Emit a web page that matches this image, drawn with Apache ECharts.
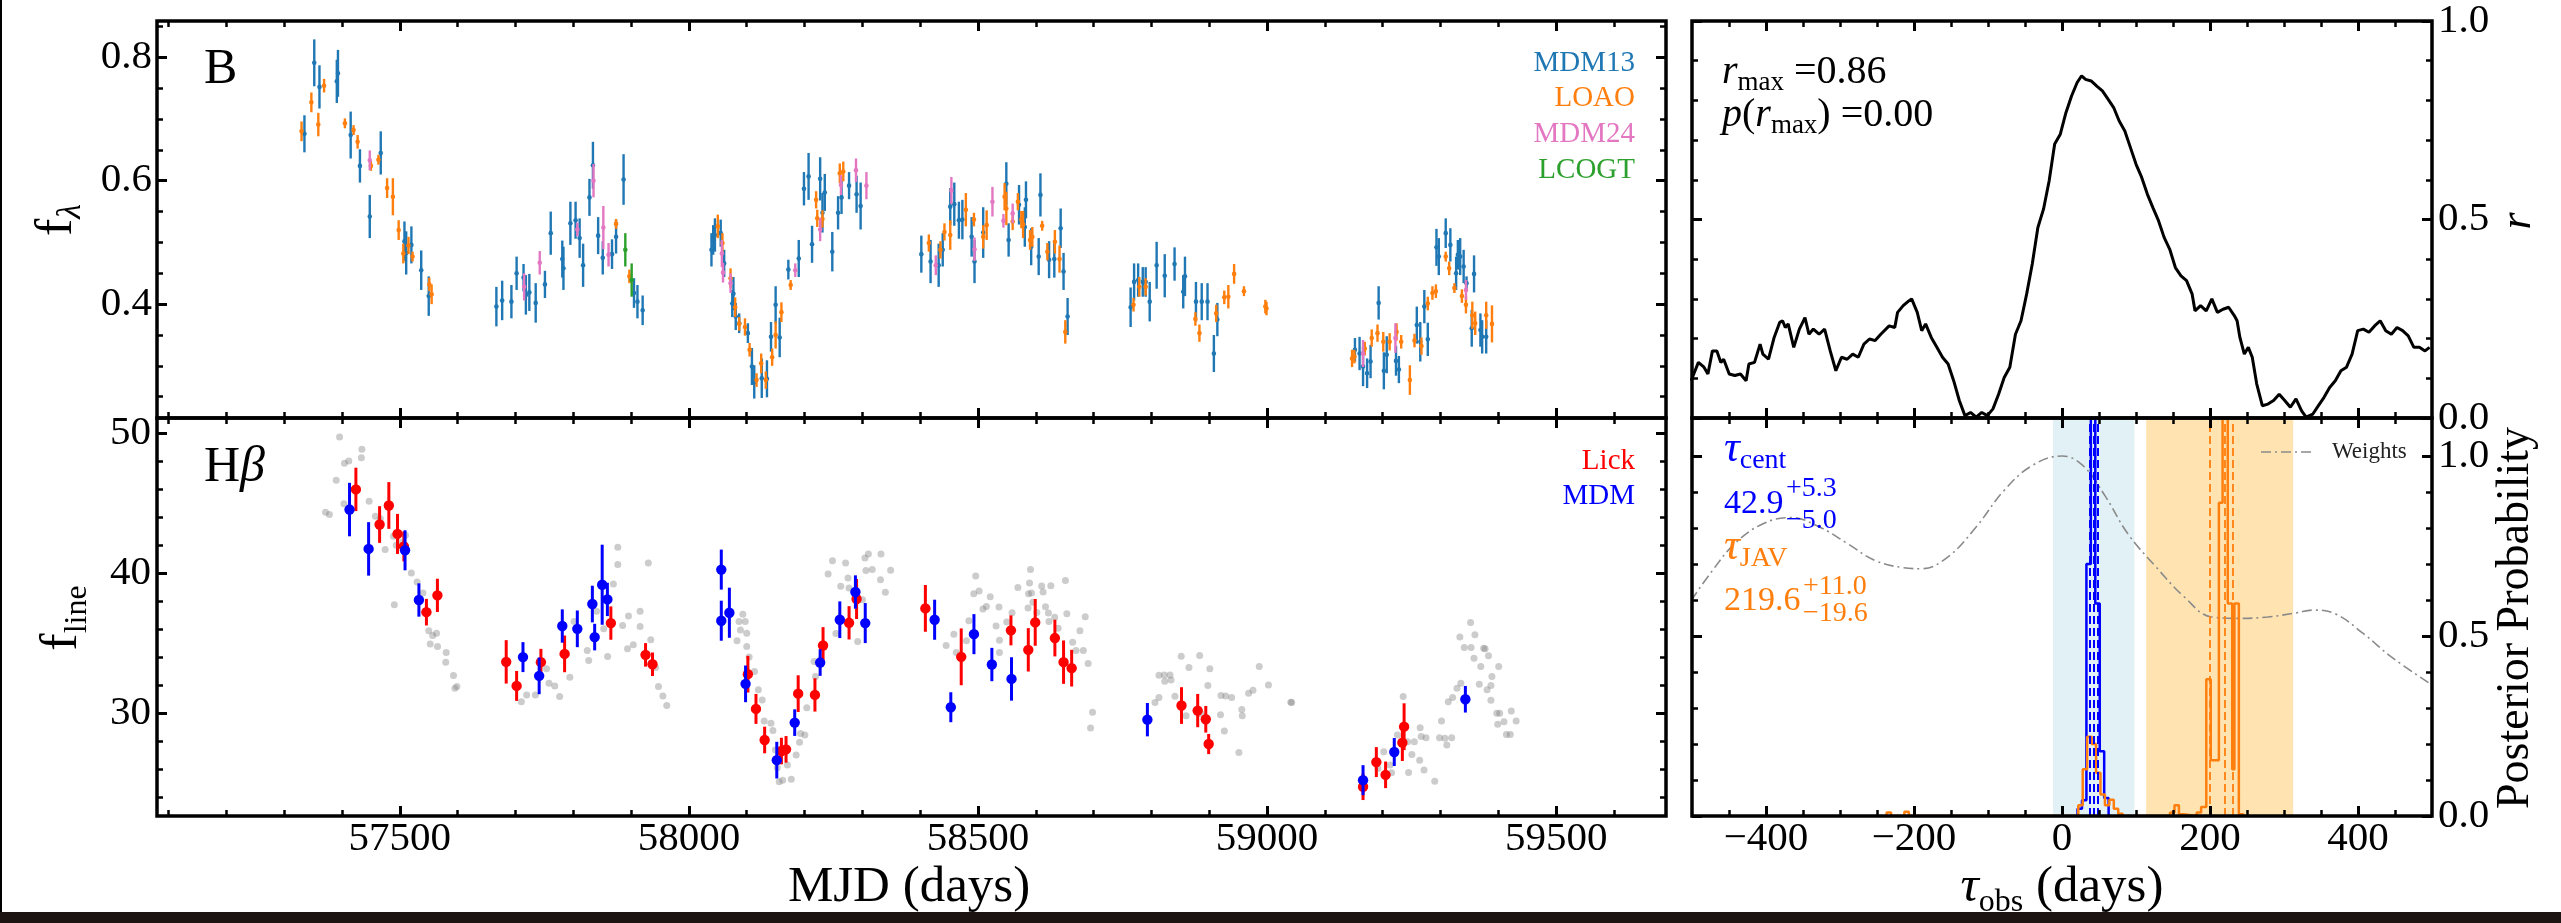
<!DOCTYPE html>
<html><head><meta charset="utf-8">
<script src="https://cdn.jsdelivr.net/npm/echarts@6/dist/echarts.min.js"></script>
<style>html,body{margin:0;padding:0;background:#fff}#c{width:2561px;height:923px}</style>
</head><body><div id="c"></div>
<script>
// ---------------- DATA ----------------
// B-band continuum: [MJD, flux, error]
const mdm13 = [[57335,0.676,0.030],[57352,0.791,0.038],[57361,0.752,0.035],[57391,0.761,0.035],[57393,0.774,0.038],[57415,0.674,0.038],[57431,0.624,0.027],[57448,0.542,0.035],[57467,0.645,0.035],[57508,0.502,0.032],[57511,0.483,0.035],[57520,0.496,0.030],[57537,0.455,0.032],[57550,0.413,0.032],
[57667,0.396,0.032],[57677,0.406,0.032],[57693,0.404,0.027],[57702,0.450,0.027],[57714,0.443,0.022],[57718,0.415,0.032],[57724,0.419,0.030],[57735,0.402,0.032],[57751,0.432,0.022],[57761,0.515,0.035],[57781,0.473,0.030],[57783,0.458,0.035],[57795,0.531,0.035],[57804,0.536,0.030],[57811,0.507,0.032],[57817,0.463,0.035],[57828,0.573,0.030],[57834,0.625,0.038],[57843,0.511,0.030],[57851,0.475,0.027],[57867,0.481,0.024],[57874,0.509,0.027],[57887,0.602,0.041],[57905,0.418,0.024],[57911,0.404,0.027],[57920,0.390,0.024],
[58039,0.488,0.027],[58042,0.504,0.024],[58045,0.512,0.027],[58055,0.515,0.022],[58061,0.466,0.022],[58075,0.401,0.022],[58077,0.417,0.027],[58081,0.380,0.022],[58087,0.369,0.016],[58102,0.353,0.016],[58109,0.299,0.030],[58113,0.274,0.027],[58126,0.280,0.032],[58135,0.279,0.030],[58142,0.347,0.024],[58150,0.399,0.030],[58157,0.346,0.032],[58172,0.456,0.016],[58190,0.474,0.030],[58199,0.587,0.027],[58207,0.607,0.038],[58213,0.497,0.030],[58227,0.603,0.035],[58231,0.548,0.032],[58235,0.581,0.030],[58248,0.485,0.032],[58258,0.548,0.027],[58264,0.573,0.027],[58277,0.592,0.022],[58290,0.578,0.030],[58297,0.559,0.038],
[58402,0.481,0.030],[58418,0.469,0.035],[58432,0.463,0.035],[58439,0.488,0.027],[58452,0.558,0.030],[58459,0.562,0.035],[58467,0.536,0.030],[58473,0.537,0.032],[58489,0.509,0.032],[58494,0.469,0.035],[58509,0.516,0.041],[58549,0.595,0.035],[58553,0.504,0.027],[58571,0.561,0.032],[58581,0.525,0.032],[58583,0.569,0.030],[58592,0.493,0.030],[58605,0.477,0.030],[58608,0.577,0.035],[58623,0.472,0.030],[58632,0.473,0.030],[58643,0.523,0.032],[58648,0.453,0.030],[58655,0.380,0.030],
[58764,0.395,0.032],[58770,0.436,0.030],[58777,0.439,0.027],[58785,0.436,0.024],[58790,0.436,0.024],[58797,0.404,0.032],[58809,0.463,0.038],[58823,0.446,0.035],[58840,0.465,0.027],[58855,0.420,0.027],[58858,0.445,0.032],[58877,0.404,0.032],[58887,0.404,0.030],[58897,0.404,0.030],[58908,0.320,0.030],[58914,0.375,0.027],
[59152,0.326,0.019],[59160,0.320,0.027],[59166,0.299,0.032],[59173,0.288,0.024],[59179,0.307,0.027],[59193,0.402,0.027],[59202,0.292,0.030],[59207,0.318,0.030],[59223,0.308,0.024],[59228,0.294,0.022],[59259,0.366,0.030],[59265,0.339,0.032],[59272,0.396,0.027],[59278,0.343,0.027],[59293,0.492,0.030],[59297,0.477,0.030],[59309,0.515,0.024],[59317,0.496,0.027],[59327,0.450,0.027],[59330,0.480,0.024],[59334,0.477,0.030],[59340,0.461,0.027],[59345,0.434,0.011],[59354,0.361,0.030],[59358,0.449,0.030],[59369,0.358,0.027],[59372,0.347,0.027],[59379,0.347,0.027]];
const loao = [[57330,0.680,0.016],[57347,0.727,0.016],[57359,0.691,0.019],[57369,0.754,0.011],[57405,0.693,0.008],[57420,0.682,0.008],[57427,0.663,0.011],[57450,0.624,0.008],[57463,0.634,0.008],[57478,0.588,0.016],[57488,0.574,0.030],[57498,0.520,0.016],[57506,0.482,0.016],[57515,0.495,0.014],[57522,0.477,0.008],[57551,0.432,0.011],[57555,0.416,0.016],
[57874,0.530,0.008],[57897,0.445,0.011],
[58050,0.526,0.019],[58058,0.499,0.016],[58072,0.442,0.016],[58080,0.395,0.016],[58087,0.368,0.011],[58097,0.363,0.014],[58105,0.326,0.011],[58117,0.277,0.011],[58125,0.304,0.016],[58133,0.277,0.014],[58144,0.314,0.014],[58150,0.350,0.022],[58160,0.387,0.016],[58176,0.431,0.008],[58220,0.569,0.014],[58222,0.539,0.014],[58231,0.538,0.014],[58261,0.612,0.016],[58267,0.615,0.016],
[58415,0.499,0.014],[58435,0.488,0.014],[58442,0.517,0.014],[58452,0.512,0.024],[58479,0.553,0.027],[58493,0.537,0.011],[58509,0.509,0.019],[58515,0.528,0.024],[58546,0.574,0.022],[58549,0.555,0.027],[58560,0.534,0.014],[58569,0.566,0.014],[58575,0.537,0.014],[58578,0.529,0.022],[58590,0.504,0.016],[58594,0.509,0.016],[58611,0.527,0.008],[58620,0.485,0.014],[58633,0.501,0.019],[58641,0.473,0.022],[58651,0.355,0.019],
[58769,0.399,0.011],[58779,0.428,0.016],[58790,0.428,0.014],[58876,0.376,0.011],[58883,0.353,0.014],[58912,0.385,0.014],[58926,0.411,0.011],[58933,0.412,0.019],[58943,0.449,0.016],[58960,0.421,0.008],[58997,0.396,0.011],[58999,0.393,0.011],
[59147,0.312,0.014],[59151,0.315,0.011],[59169,0.328,0.011],[59181,0.345,0.014],[59191,0.353,0.014],[59201,0.339,0.016],[59212,0.339,0.014],[59224,0.355,0.014],[59232,0.339,0.011],[59247,0.277,0.024],[59255,0.341,0.011],[59267,0.332,0.014],[59278,0.401,0.011],[59286,0.418,0.011],[59292,0.421,0.011],[59309,0.477,0.008],[59315,0.458,0.011],[59324,0.426,0.008],[59337,0.413,0.011],[59344,0.399,0.014],[59355,0.382,0.022],[59360,0.369,0.019],[59379,0.382,0.022],[59389,0.368,0.030]];
const mdm24 = [[57448,0.633,0.016],[57715,0.428,0.022],[57742,0.467,0.019],[57807,0.521,0.011],[57835,0.600,0.027],[57852,0.524,0.035],[57861,0.480,0.019],
[58057,0.482,0.022],[58059,0.451,0.016],[58072,0.434,0.016],[58184,0.455,0.011],[58227,0.521,0.019],[58263,0.593,0.016],[58289,0.617,0.019],[58307,0.592,0.022],
[58427,0.463,0.016],[58454,0.584,0.022],[58494,0.489,0.019],[58525,0.566,0.024],[58544,0.535,0.011],[58560,0.547,0.016],
[59166,0.320,0.022],[59222,0.345,0.024],[59344,0.423,0.016]];
const lcogt = [[57890,0.488,0.027],[57901,0.439,0.027]];

// H-beta line: [MJD, flux, error]
const lick = [[57424,45.97,1.55],[57465,43.46,1.31],[57481,44.82,1.67],[57496,42.79,1.43],[57507,41.9,1.07],[57546,37.2,0.95],[57565,38.4,1.19],[57684,33.65,1.55],[57702,31.93,1.07],[57744,33.63,0.95],[57785,34.22,1.31],[57865,36.42,1.19],[57925,34.15,0.84],[57937,33.48,0.84],[58102,32.77,1.31],[58116,30.29,1.07],[58131,28.07,0.95],[58160,27.28,0.95],[58168,27.40,0.95],[58189,31.38,1.31],[58218,31.29,1.19],[58232,34.82,1.31],[58277,36.44,1.19],[58290,38.14,1.43],
[58409,37.47,1.67],[58471,34.01,2.03],[58557,35.9,1.07],[58587,34.51,1.55],[58599,36.47,1.67],[58633,35.35,1.31],[58648,33.63,1.55],[58662,33.2,1.31],[58852,30.53,1.31],[58880,30.17,1.19],[58894,29.55,0.95],[58899,27.78,0.72],[59166,24.73,0.95],[59189,26.49,1.07],[59205,25.58,0.95],[59234,27.88,1.31],[59237,29.02,1.67]];
const mdmLine = [[57413,44.53,1.91],[57446,41.72,1.91],[57509,41.62,1.43],[57533,38.07,1.19],[57713,33.99,1.07],[57741,32.65,1.31],[57781,36.21,1.19],[57807,36.01,1.31],[57833,37.78,1.31],[57837,35.42,0.95],[57850,39.16,2.86],[57859,38.11,1.19],[58056,40.24,1.43],[58056,36.59,1.43],[58070,37.16,1.79],[58098,32.08,1.31],[58152,26.63,1.31],[58183,29.31,0.95],[58227,33.6,0.95],[58261,36.66,1.31],[58288,38.64,1.19],[58305,36.42,1.43],
[58425,36.66,1.43],[58453,30.41,1.07],[58493,35.63,1.43],[58524,33.46,1.19],[58558,32.43,1.55],[58793,29.52,1.19],[59166,25.2,1.07],[59220,27.21,1.0],[59343,30.98,0.95]];
// grey points (shifted / scaled continuum): [MJD, flux]
const hbGray = [[57371.5,44.34],[57378.2,44.18],[57395.8,49.71],[57390,46.63],[57403.3,44.94],[57404.2,47.83],[57411.7,48.0],[57434.4,48.83],[57433.5,48.23],[57446.9,45.13],[57457.8,44.06],[57466.2,43.87],[57474.6,41.67],[57488.9,42.63],[57493.9,41.98],[57502.3,42.2],[57509.8,42.7],[57519.9,40.0],[57529.9,39.36],[57540,38.57],[57490.5,37.73],[57544.2,37.26],[57550.1,35.87],[57556.8,35.54],[57563.5,35.7],[57552.6,34.92],[57565.2,34.75],[57580.2,34.32],[57579.4,33.63],[57592.8,32.67],[57595.3,31.77],[57598.7,31.89],
[57710.2,30.81],[57719.4,31.29],[57734.5,31.29],[57753.8,33.15],[57758,32.12],[57768,31.93],[57776.4,31.17],[57794,32.55],[57801.5,36.54],[57824.2,34.46],[57826.7,33.75],[57840.1,37.26],[57852.7,36.01],[57859.4,34.03],[57869.4,39.21],[57877,40.6],[57877,41.84],[57885.4,36.25],[57895.5,36.92],[57893.8,34.58],[57903.8,34.87],[57915.6,37.26],[57915.6,36.18],[57929.8,40.72],[57934,35.23],[57942.4,33.25],[57947.4,31.89],[57955,31.22],[57961.7,30.53],
[58083.2,35.16],[58086.6,36.54],[58089.1,35.92],[58093.3,37.06],[58097.5,36.54],[58100,35.7],[58100,34.75],[58104.2,33.99],[58113.4,32.96],[58120.1,31.65],[58126.8,30.93],[58130.2,29.43],[58141.9,29.26],[58145.3,28.74],[58149.5,27.35],[58152.8,26.09],[58156.2,25.08],[58162.1,25.2],[58170.4,26.28],[58177.1,25.27],[58185.5,26.99],[58191.4,27.9],[58193.1,28.54],[58200.6,28.42],[58203.9,30.38],[58216.5,33.68],[58219,32.6],[58240.8,39.93],[58248.3,40.88],[58254.2,35.68],[58262.6,39.05],[58271,40.72],[58275.2,39.64],[58276.9,38.93],[58291.9,35.11],[58300.3,38.09],[58304.5,41.07],[58306.2,40.17],[58310.4,41.36],[58317.1,40.24],[58332.2,41.36],[58331.4,39.52],[58339.8,38.62],[58348.9,40.19],
[58444.9,34.82],[58458.3,35.63],[58462.5,34.32],[58480.1,35.16],[58484.3,36.59],[58492.7,38.52],[58496.1,39.79],[58501.9,38.71],[58508.6,37.42],[58514.5,37.61],[58521.2,38.31],[58531.3,36.21],[58536.3,37.57],[58537.1,35.2],[58537.1,34.32],[58549.7,36.49],[58558.9,37.16],[58569,38.97],[58586.6,37.49],[58587.4,38.52],[58589.1,39.28],[58590.8,40.24],[58592.5,38.57],[58595,37.9],[58601.7,37.18],[58610.1,39.07],[58612.6,38.64],[58616.8,37.59],[58621.8,37.14],[58626,39.09],[58622.7,36.54],[58632.7,36.83],[58638.6,36.06],[58651.2,39.47],[58653.7,37.09],[58663.7,35.06],[58669.6,34.46],[58676.3,35.87],[58682.2,34.46],[58685.5,36.87],[58690.6,33.53],[58698.1,30.05],[58694.7,28.93],
[58806.2,30.74],[58813,31.1],[58813,32.7],[58823,32.27],[58822.2,32.72],[58832.2,32.72],[58833.9,32.36],[58840.6,31.19],[58851.5,34.06],[58859.9,29.81],[58864.9,33.25],[58883.4,34.11],[58885.9,29.95],[58897.6,31.96],[58901,33.15],[58920.3,31.24],[58919.4,29.88],[58926.1,28.71],[58928.6,31.22],[58938.7,31.1],[58951.3,27.18],[58956.3,30.24],[58957.1,29.81],[58968,31.41],[58975.6,31.62],[58986.5,33.32],[59002.4,32.0],[59041,30.76],[59042.6,30.74],
[59191.8,26.04],[59201.9,27.23],[59212.8,26.28],[59215.3,25.73],[59225.4,28.42],[59235.4,31.17],[59243,27.95],[59244.7,25.75],[59250.5,27.04],[59254.7,27.95],[59263.9,26.63],[59264.8,28.95],[59266.5,28.31],[59271.5,25.92],[59274.9,28.23],[59290,25.13],[59298.3,28.23],[59301.7,29.43],[59307.6,28.19],[59310.9,27.71],[59313.4,30.81],[59319.3,28.23],[59320.9,31.1],[59328.5,31.77],[59335.2,32.12],[59333.5,35.42],[59341.1,34.68],[59352,36.47],[59352.8,34.68],[59357.9,33.91],[59359.5,35.58],[59367.1,32.05],[59369.6,33.32],[59374.6,34.63],[59377.1,34.58],[59380.5,31.65],[59383,34.08],[59387.2,30.91],[59387.2,31.96],[59388.9,32.6],[59400.6,33.32],[59397.3,29.98],[59402.3,29.98],[59398.9,29.19],[59409.8,29.38],[59414,28.47],[59420.7,28.47],[59422.4,30.14],[59430.8,29.43]];

// CCF
const ccfLag = [-501.2,-491.4,-483.8,-478.5,-472.4,-466.4,-461.0,-457.2,-449.7,-442.1,-434.5,-426.9,-423.1,-415.5,-408.0,-404.2,-396.6,-389.0,-381.4,-377.6,-373.9,-370.0,-362.5,-354.9,-347.3,-342.0,-336.0,-328.3,-320.8,-313.2,-305.6,-298.0,-290.4,-282.8,-275.3,-267.7,-260.1,-252.5,-244.9,-233.6,-226.0,-222.2,-214.6,-207.0,-203.2,-195.6,-189.6,-184.3,-176.7,-169.1,-161.5,-153.9,-146.4,-138.8,-131.2,-123.6,-116.0,-108.4,-100.9,-93.3,-85.7,-78.1,-70.5,-62.9,-55.4,-47.8,-40.2,-32.6,-25.0,-17.4,-9.9,-2.3,5.3,12.9,20.5,26.5,31.8,39.4,47.0,54.6,62.2,69.8,77.3,84.9,92.5,100.1,107.7,115.3,122.8,130.4,138.0,145.6,153.2,160.8,168.3,175.9,179.7,187.3,194.9,202.5,210.0,217.6,225.2,232.8,236.6,240.4,246.4,251.8,257.1,263.1,270.7,278.3,285.9,293.5,301.0,308.6,316.2,323.8,329.9,339.0,346.5,354.1,361.7,369.3,376.9,384.5,392.0,399.6,407.2,414.8,422.4,430.0,437.5,445.1,452.7,460.3,467.9,475.5,483.0,490.6,496.7];
const ccfR = [0.094,0.140,0.128,0.111,0.169,0.169,0.140,0.148,0.111,0.107,0.111,0.094,0.136,0.140,0.186,0.161,0.148,0.203,0.241,0.245,0.228,0.237,0.178,0.224,0.253,0.211,0.224,0.211,0.224,0.169,0.119,0.153,0.148,0.161,0.153,0.186,0.199,0.195,0.211,0.232,0.228,0.266,0.283,0.295,0.300,0.266,0.220,0.237,0.203,0.178,0.153,0.136,0.094,0.044,0.006,0.014,0.002,0.014,0.006,0.023,0.060,0.102,0.128,0.211,0.245,0.312,0.388,0.480,0.526,0.597,0.690,0.715,0.769,0.811,0.845,0.862,0.853,0.849,0.836,0.824,0.803,0.782,0.748,0.723,0.681,0.639,0.606,0.564,0.530,0.497,0.455,0.425,0.379,0.358,0.346,0.312,0.270,0.283,0.270,0.300,0.266,0.274,0.279,0.258,0.245,0.203,0.161,0.178,0.153,0.086,0.031,0.035,0.044,0.060,0.044,0.027,0.048,0.018,0.002,0.010,0.031,0.052,0.077,0.094,0.119,0.128,0.161,0.220,0.224,0.216,0.232,0.245,0.220,0.211,0.228,0.220,0.207,0.178,0.178,0.169,0.178];

// Posterior histograms (bin edges, heights)
const centEdges = [21,27,33,39,45,51,57,63];
const centHeights = [0.02,0.044,0.70,1.3,0.59,0.18,0.05];
const javEdges = [-237,-231,-213,-207,22,28,34,40,46,52,58,64,70,76,82,146,152,158,164,182,188,195,201,207,212,217,224,230,233,239,245];
const javHeights = [0.01,0,0.012,0,0.03,0.13,0.22,0.20,0.12,0.06,0.03,0.045,0.02,0.006,0,0.01,0.03,0.005,0,0.01,0.025,0.38,0.155,0.155,0.87,1.3,0.59,0.13,0.59,0.005];
const centLines = [37.9,42.9,48.2];
const javLines = [200.0,219.6,230.6];
const centBand = [-12.1,97.9];
const javBand = [113.7,312.4];
const weightLag = [-501,-472,-442,-404,-366,-328,-290,-253,-215,-190,-154,-116,-78,-40,0,28,58,89,127,165,202,240,278,316,339,369,407,445,497];
const weightVal = [0.599,0.683,0.757,0.812,0.829,0.803,0.757,0.710,0.690,0.687,0.720,0.803,0.905,0.974,1.0,0.974,0.890,0.784,0.692,0.609,0.553,0.549,0.553,0.564,0.572,0.562,0.507,0.442,0.368];

// Ticks
const mjdMajor = [57500,58000,58500,59000,59500];
const mjdMinor = [57100,57200,57300,57400,57600,57700,57800,57900,58100,58200,58300,58400,58600,58700,58800,58900,59100,59200,59300,59400,59600];
const fTopMajor = [0.4,0.6,0.8];
const fTopMinor = [0.25,0.3,0.35,0.45,0.5,0.55,0.65,0.7,0.75,0.85];
const fLineMajor = [30,40,50];
const fLineMinor = [24,26,28,32,34,36,38,42,44,46,48];
const lagMajor = [-400,-200,0,200,400];
const lagMinor = [-450,-350,-300,-250,-150,-100,-50,50,100,150,250,300,350,450];
const rMajor = [0,0.5,1.0];
const rMinor = [0.1,0.2,0.3,0.4,0.6,0.7,0.8,0.9];
const probMajor = [0,0.5,1.0];
const probMinor = [0.1,0.2,0.3,0.4,0.6,0.7,0.8,0.9];

// ---------------- CHART ----------------
const SERIF = '"Liberation Serif", "Times New Roman", serif';
const C = {mdm13:'#1f77b4', loao:'#ff7f0e', mdm24:'#e377c2', lcogt:'#2ca02c', lick:'#ff0000', mdm:'#0000ff'};

const grids = [
  {left:157, top:21, width:1509, height:397},
  {left:157, top:418, width:1509, height:398},
  {left:1692, top:21, width:740, height:397},
  {left:1692, top:418, width:740, height:398}
].map(g => Object.assign(g, {show:true, borderColor:'#000', borderWidth:3.5, backgroundColor:'transparent', z:10}));

const xAxes = [], yAxes = [];
function addAxes(list, grid, posA, posB, min, max, major, minor, label, labelSide) {
  const mk = (pos, vals, len, w, lab) => ({
    type:'value', gridIndex:grid, position:pos, min:min, max:max,
    axisLine:{show:false, onZero:false},
    splitLine:{show:false},
    axisTick:{show:true, inside:true, length:len, lineStyle:{color:'#000', width:w}, customValues:vals},
    axisLabel: lab ? {show:true, customValues:lab.values, formatter:lab.fmt, margin:lab.margin,
                      color:'#000', fontFamily:SERIF, fontSize:41} : {show:false},
    axisPointer:{show:false}, silent:true, z:11
  });
  list.push(mk(posA, major, 10, 3, labelSide === posA ? label : null));
  list.push(mk(posA, minor, 6, 2.5, null));
  list.push(mk(posB, major, 10, 3, labelSide === posB ? label : null));
  list.push(mk(posB, minor, 6, 2.5, null));
}
const fmt1 = v => Number(v).toFixed(1);
const fmt0 = v => String(Math.round(v));
const fmtMinus = v => (v < 0 ? '\u2212' : '') + Math.abs(Math.round(v));
addAxes(xAxes, 0, 'bottom', 'top', 57080, 59690, mjdMajor, mjdMinor, null, null);
addAxes(yAxes, 0, 'left', 'right', 0.2155, 0.8588, fTopMajor, fTopMinor, {values:fTopMajor, fmt:fmt1, margin:5}, 'left');
addAxes(xAxes, 1, 'bottom', 'top', 57080, 59690, mjdMajor, mjdMinor, {values:mjdMajor, fmt:fmt0, margin:3}, 'bottom');
addAxes(yAxes, 1, 'left', 'right', 22.64, 51.07, fLineMajor, fLineMinor, {values:fLineMajor, fmt:fmt0, margin:6}, 'left');
addAxes(xAxes, 2, 'bottom', 'top', -500, 500, lagMajor, lagMinor, null, null);
addAxes(yAxes, 2, 'left', 'right', 0, 1, rMajor, rMinor, {values:rMajor, fmt:fmt1, margin:6}, 'right');
addAxes(xAxes, 3, 'bottom', 'top', -500, 500, lagMajor, lagMinor, {values:lagMajor, fmt:fmtMinus, margin:3}, 'bottom');
addAxes(yAxes, 3, 'left', 'right', 0, 1.1056, probMajor, probMinor, {values:probMajor, fmt:fmt1, margin:6}, 'right');

function errSeries(data, color, r, lw, g) {
  return {
    type:'custom', xAxisIndex:4*g, yAxisIndex:4*g, data:data, clip:true, z:3, silent:true,
    renderItem:(params, api) => {
      const x = api.value(0), y = api.value(1), e = api.value(2);
      const c = api.coord([x, y]), lo = api.coord([x, y - e]), hi = api.coord([x, y + e]);
      return {type:'group', children:[
        {type:'line', shape:{x1:c[0], y1:lo[1], x2:c[0], y2:hi[1]}, style:{stroke:color, lineWidth:lw}},
        {type:'circle', shape:{cx:c[0], cy:c[1], r:r}, style:{fill:color}}
      ]};
    }
  };
}
function stepPts(edges, heights) {
  const pts = [[edges[0], 0]];
  heights.forEach((h, i) => pts.push([edges[i], h]));
  pts.push([edges[edges.length - 1], 0]);
  return pts;
}

const series = [
  errSeries(mdm13, C.mdm13, 2.3, 2.4, 0),
  errSeries(loao, C.loao, 2.3, 2.4, 0),
  errSeries(mdm24, C.mdm24, 2.3, 2.4, 0),
  errSeries(lcogt, C.lcogt, 2.3, 2.4, 0),
  {type:'scatter', xAxisIndex:4, yAxisIndex:4, data:hbGray, symbolSize:7, silent:true, z:2,
   itemStyle:{color:'rgba(128,128,128,0.5)'}},
  errSeries(lick, C.lick, 5.2, 3, 1),
  errSeries(mdmLine, C.mdm, 5.2, 3, 1),
  {type:'line', xAxisIndex:8, yAxisIndex:8, data:ccfLag.map((t, i) => [t, ccfR[i]]), showSymbol:false,
   silent:true, z:3, lineStyle:{color:'#000', width:3}},
  {type:'line', xAxisIndex:12, yAxisIndex:12, data:weightLag.map((t, i) => [t, weightVal[i]]), showSymbol:false,
   smooth:0.4, silent:true, z:2, lineStyle:{color:'#8a8a8a', width:1.6, type:[10,4,2,4]},
   markArea:{silent:true, data:[
     [{xAxis:centBand[0], itemStyle:{color:'rgba(173,216,230,0.35)'}}, {xAxis:centBand[1]}],
     [{xAxis:javBand[0], itemStyle:{color:'rgba(255,165,0,0.3)'}}, {xAxis:javBand[1]}]
   ]}},
  {type:'line', xAxisIndex:12, yAxisIndex:12, data:stepPts(centEdges, centHeights), step:'end', showSymbol:false,
   silent:true, z:3, lineStyle:{color:'#0000ff', width:2.5},
   markLine:{silent:true, symbol:['none','none'], label:{show:false}, lineStyle:{type:[8,4], color:'#0000ff', width:2},
     data:centLines.map(v => ({xAxis:v}))}},
  {type:'line', xAxisIndex:12, yAxisIndex:12, data:stepPts(javEdges, javHeights), step:'end', showSymbol:false,
   silent:true, z:4, lineStyle:{color:'#ff7f0e', width:2.5},
   markLine:{silent:true, symbol:['none','none'], label:{show:false}, lineStyle:{type:[8,4], color:'#ff7f0e', width:1.8},
     data:javLines.map(v => ({xAxis:v}))}}
];

// ---- text helpers ----
function F(size, italic) { return {fontSize:size, fontFamily:SERIF, fontStyle: italic ? 'italic' : 'normal'}; }
function T(x, y, text, size, fill, align, italic, rotation) {
  const el = {type:'text', x:x, y:y, silent:true, z:100,
    style:Object.assign({text:text, fill:fill || '#000', align:align || 'left', verticalAlign:'middle',
      textAlign:align || 'left', textVerticalAlign:'middle'}, F(size, italic))};
  if (rotation) el.rotation = rotation;
  return el;
}
function tok(size, italic, lh, va, fill) { return Object.assign(F(size, italic), {lineHeight:lh, verticalAlign:va, fill:fill}); }
function R(x, y, text, rich, fill, align, rotation) {
  const el = {type:'text', x:x, y:y, silent:true, z:100,
    style:{text:text, rich:rich, fill:fill, align:align, verticalAlign:'middle', textAlign:align, textVerticalAlign:'middle',
      fontSize:36, fontFamily:SERIF}};
  if (rotation) el.rotation = rotation;
  return el;
}
const BLUE = '#0000ff', ORANGE = '#ff7f0e';
const graphic = [
  {type:'rect', shape:{x:0, y:0, width:2, height:923}, style:{fill:'#000'}, silent:true, z:100},
  {type:'rect', shape:{x:0, y:912, width:2561, height:11}, style:{fill:'#1c1412'}, silent:true, z:100},
  T(204, 70, 'B', 50),
  R(204, 468, '{a|H}{b|\u03b2}', {a:tok(50,false,56,'middle','#000'), b:tok(50,true,56,'middle','#000')}, '#000', 'left'),
  T(1635, 63, 'MDM13', 29, C.mdm13, 'right'),
  T(1635, 98, 'LOAO', 29, C.loao, 'right'),
  T(1635, 134, 'MDM24', 29, C.mdm24, 'right'),
  T(1635, 170, 'LCOGT', 29, C.lcogt, 'right'),
  T(1635, 461, 'Lick', 29, C.lick, 'right'),
  T(1635, 496, 'MDM', 29, C.mdm, 'right'),
  R(1722, 72, '{m|r}{s|max}{n| =0.86}', {m:tok(40,true,48,'middle','#000'), s:tok(27,false,27,'bottom','#000'), n:tok(40,false,48,'middle','#000')}, '#000', 'left'),
  R(1722, 115, '{m|p}{n|(}{m|r}{s|max}{n|) =0.00}', {m:tok(40,true,48,'middle','#000'), s:tok(27,false,27,'bottom','#000'), n:tok(40,false,48,'middle','#000')}, '#000', 'left'),
  R(1724, 449, '{m|\u03c4}{s|cent}', {m:tok(44,true,52,'middle',BLUE), s:tok(28,false,28,'bottom',BLUE)}, BLUE, 'left'),
  T(1724, 504, '42.9', 34, BLUE),
  T(1786, 489, '+5.3', 28, BLUE),
  T(1786, 521, '\u22125.0', 28, BLUE),
  R(1724, 547, '{m|\u03c4}{s|JAV}', {m:tok(44,true,52,'middle',ORANGE), s:tok(28,false,28,'bottom',ORANGE)}, ORANGE, 'left'),
  T(1724, 601, '219.6', 34, ORANGE),
  T(1803, 587, '+11.0', 28, ORANGE),
  T(1803, 614, '\u221219.6', 28, ORANGE),
  {type:'line', shape:{x1:2261, y1:452, x2:2312, y2:452}, style:{stroke:'#8a8a8a', lineWidth:1.6, lineDash:[10,4,2,4]}, silent:true, z:100},
  T(2332, 452, 'Weights', 23, '#222'),
  T(909, 888, 'MJD (days)', 51, '#000', 'center'),
  R(2062, 888, '{m|\u03c4}{s|obs}{n| (days)}', {m:tok(51,true,61,'middle','#000'), s:tok(32,false,32,'bottom','#000'), n:tok(51,false,61,'middle','#000')}, '#000', 'center'),
  R(57, 220, '{f|f}{s|\u03bb}', {f:tok(52,false,63,'middle','#000'), s:tok(34,true,34,'bottom','#000')}, '#000', 'center', Math.PI / 2),
  R(62, 618, '{f|f}{s|line}', {f:tok(52,false,63,'middle','#000'), s:tok(32,false,32,'bottom','#000')}, '#000', 'center', Math.PI / 2),
  T(2518, 221, 'r', 44, '#000', 'center', true, Math.PI / 2),
  T(2516, 618, 'Posterior Probability', 46, '#000', 'center', false, Math.PI / 2)
];

const chart = echarts.init(document.getElementById('c'), null, {renderer:'canvas', width:2561, height:923});
chart.setOption({
  backgroundColor:'#ffffff',
  animation:false,
  grid:grids,
  xAxis:xAxes,
  yAxis:yAxes,
  series:series,
  graphic:graphic
});
</script></body></html>
